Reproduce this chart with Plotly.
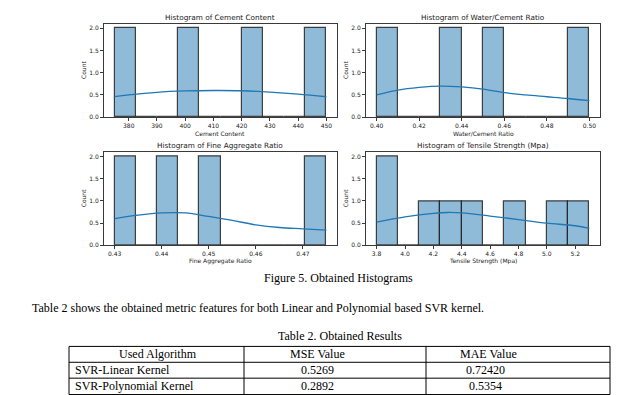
import plotly.graph_objects as go

W, H = 620, 395

# ---------------- data ----------------
cement_edges = [375, 382.5, 390, 397.5, 405, 412.5, 420, 427.5, 435, 442.5, 450]
cement_counts = [2, 0, 0, 2, 0, 0, 2, 0, 0, 2]
cement_kde_x = [375, 380, 390, 400, 410, 420, 430, 440, 450]
cement_kde_y = [0.46, 0.50, 0.56, 0.59, 0.60, 0.595, 0.565, 0.52, 0.46]
cement_ticks = [380, 390, 400, 410, 420, 430, 440, 450]

wc_edges = [0.40, 0.41, 0.42, 0.43, 0.44, 0.45, 0.46, 0.47, 0.48, 0.49, 0.50]
wc_counts = [2, 0, 0, 2, 0, 2, 0, 0, 0, 2]
wc_kde_x = [0.40, 0.41, 0.42, 0.43, 0.44, 0.45, 0.46, 0.47, 0.48, 0.49, 0.50]
wc_kde_y = [0.50, 0.61, 0.67, 0.70, 0.68, 0.63, 0.55, 0.50, 0.46, 0.42, 0.37]
wc_ticks = [0.40, 0.42, 0.44, 0.46, 0.48, 0.50]

fa_edges = [0.43, 0.4345, 0.439, 0.4435, 0.448, 0.4525, 0.457, 0.4615, 0.466, 0.4705, 0.475]
fa_counts = [2, 0, 2, 0, 2, 0, 0, 0, 0, 2]
fa_kde_x = [0.43, 0.435, 0.44, 0.445, 0.45, 0.455, 0.46, 0.465, 0.47, 0.475]
fa_kde_y = [0.60, 0.68, 0.73, 0.73, 0.65, 0.56, 0.46, 0.40, 0.37, 0.34]
fa_ticks = [0.43, 0.44, 0.45, 0.46, 0.47]

ts_edges = [3.8, 3.95, 4.1, 4.25, 4.4, 4.55, 4.7, 4.85, 5.0, 5.15, 5.3]
ts_counts = [2, 0, 1, 1, 1, 0, 1, 0, 1, 1]
ts_kde_x = [3.8, 4.0, 4.2, 4.3, 4.4, 4.6, 4.8, 5.0, 5.2, 5.3]
ts_kde_y = [0.52, 0.64, 0.72, 0.74, 0.73, 0.66, 0.58, 0.50, 0.44, 0.38]
ts_ticks = [3.8, 4.0, 4.2, 4.4, 4.6, 4.8, 5.0, 5.2]

y_ticks = [0.0, 0.5, 1.0, 1.5, 2.0]

titles = ["Histogram of Cement Content", "Histogram of Water/Cement Ratio",
          "Histogram of Fine Aggregate Ratio", "Histogram of Tensile Strength (Mpa)"]
xlabels = ["Cement Content", "Water/Cement Ratio", "Fine Aggregate Ratio", "Tensile Strength (Mpa)"]
tick_fmts = ["d", ".2f", ".2f", ".1f"]

caption = "Figure 5. Obtained Histograms"
paragraph = "Table 2 shows the obtained metric features for both Linear and Polynomial based SVR kernel."
table_title = "Table 2. Obtained Results"
table_header = ["Used Algorithm", "MSE Value", "MAE Value"]
algorithms = ["SVR-Linear Kernel", "SVR-Polynomial Kernel"]
mse_values = ["0.5269", "0.2892"]
mae_values = ["0.72420", "0.5354"]

# ---------------- layout helpers ----------------
def px_x(p):
    return p / W

def px_y(p):
    return 1 - p / H

panels = [
    (cement_edges, cement_counts, cement_kde_x, cement_kde_y, cement_ticks),
    (wc_edges, wc_counts, wc_kde_x, wc_kde_y, wc_ticks),
    (fa_edges, fa_counts, fa_kde_x, fa_kde_y, fa_ticks),
    (ts_edges, ts_counts, ts_kde_x, ts_kde_y, ts_ticks),
]
col_px = [(96, 329), (358, 592)]
row_px = [(16, 110), (145.5, 239)]

BAR_FILL = "rgba(31,119,180,0.5)"
BAR_EDGE = "rgba(35,35,35,0.85)"
LINE = "#1f77b4"
SPINE = "#3a3a3a"
SANS = "DejaVu Sans"
SERIF = "Liberation Serif"

fig = go.Figure()
layout = dict(
    width=W, height=H, margin=dict(l=0, r=0, t=0, b=0),
    paper_bgcolor="white", plot_bgcolor="white", showlegend=False,
    bargap=0,
)
annotations = []
shapes = []

for i, (edges, counts, kx, ky, ticks) in enumerate(panels):
    r, c = divmod(i, 2)
    n = i + 1
    xa = "x" if n == 1 else f"x{n}"
    ya = "y" if n == 1 else f"y{n}"
    centers = [(edges[k] + edges[k + 1]) / 2 for k in range(len(counts))]
    widths = [edges[k + 1] - edges[k] for k in range(len(counts))]
    fig.add_trace(go.Bar(
        x=centers, y=counts, width=widths, xaxis=xa, yaxis=ya,
        marker=dict(color=BAR_FILL, line=dict(color=BAR_EDGE, width=1.2)),
        hoverinfo="skip",
    ))
    fig.add_trace(go.Scatter(
        x=kx, y=ky, mode="lines", line=dict(color=LINE, width=1.3, shape="spline"),
        xaxis=xa, yaxis=ya, hoverinfo="skip",
    ))
    lo, hi = edges[0], edges[-1]
    pad = (hi - lo) * 0.05
    x0, x1 = col_px[c]
    y0, y1 = row_px[r]
    key_x = "xaxis" if n == 1 else f"xaxis{n}"
    key_y = "yaxis" if n == 1 else f"yaxis{n}"
    layout[key_x] = dict(
        domain=[px_x(x0), px_x(x1)], range=[lo - pad, hi + pad], anchor=ya,
        tickvals=ticks, tickformat=tick_fmts[i], ticks="outside", ticklen=3,
        tickcolor=SPINE, tickwidth=1, showgrid=False, zeroline=False,
        showline=True, linecolor=SPINE, linewidth=1, mirror=True,
        tickfont=dict(family=SANS, size=6, color="#222"),
    )
    layout[key_y] = dict(
        domain=[px_y(y1), px_y(y0)], range=[0, 2.1], anchor=xa,
        tickvals=y_ticks, tickformat=".1f", ticks="outside", ticklen=3,
        tickcolor=SPINE, tickwidth=1, showgrid=False, zeroline=False,
        showline=True, linecolor=SPINE, linewidth=1, mirror=True,
        tickfont=dict(family=SANS, size=6, color="#222"),
    )
    cx = (x0 + x1) / 2
    annotations.append(dict(text=titles[i], x=px_x(cx), y=px_y(y0 - 6.5), xref="paper", yref="paper",
                            showarrow=False, xanchor="center", yanchor="middle",
                            font=dict(family=SANS, size=7.3, color="#222")))
    annotations.append(dict(text=xlabels[i], x=px_x(cx), y=px_y(y1 + 16), xref="paper", yref="paper",
                            showarrow=False, xanchor="center", yanchor="middle",
                            font=dict(family=SANS, size=6, color="#222")))
    annotations.append(dict(text="Count", x=px_x(x0 - 20.5), y=px_y((y0 + y1) / 2), xref="paper", yref="paper",
                            showarrow=False, xanchor="center", yanchor="middle", textangle=-90,
                            font=dict(family=SANS, size=6, color="#222")))

def txt(text, x, y, anchor="center"):
    annotations.append(dict(text=text, x=px_x(x), y=px_y(y), xref="paper", yref="paper",
                            showarrow=False, xanchor=anchor, yanchor="middle",
                            font=dict(family=SERIF, size=12, color="black")))

txt(caption, 331, 272)
txt(paragraph, 22, 302, "left")
txt(table_title, 332, 331)

# ---------------- table (grid lines + cell texts) ----------------
tbl_cols = [61, 236, 418, 602]
tbl_rows = [341, 357, 373, 389.5]
for yy in tbl_rows:
    shapes.append(dict(type="line", xref="paper", yref="paper",
                       x0=px_x(tbl_cols[0]), x1=px_x(tbl_cols[-1]), y0=px_y(yy), y1=px_y(yy),
                       line=dict(color="black", width=1)))
for xx in tbl_cols:
    shapes.append(dict(type="line", xref="paper", yref="paper",
                       x0=px_x(xx), x1=px_x(xx), y0=px_y(tbl_rows[0]), y1=px_y(tbl_rows[-1]),
                       line=dict(color="black", width=1)))

row_mid = [(tbl_rows[k] + tbl_rows[k + 1]) / 2 for k in range(3)]
txt(table_header[0], 150, row_mid[0])
txt(table_header[1], 309, row_mid[0])
txt(table_header[2], 480, row_mid[0])
for k in range(len(algorithms)):
    txt(algorithms[k], 65, row_mid[k + 1], "left")
    txt(mse_values[k], 309, row_mid[k + 1])
    txt(mae_values[k], 477, row_mid[k + 1])

layout["annotations"] = annotations
layout["shapes"] = shapes
fig.update_layout(**layout)
fig.write_html("out.html")
